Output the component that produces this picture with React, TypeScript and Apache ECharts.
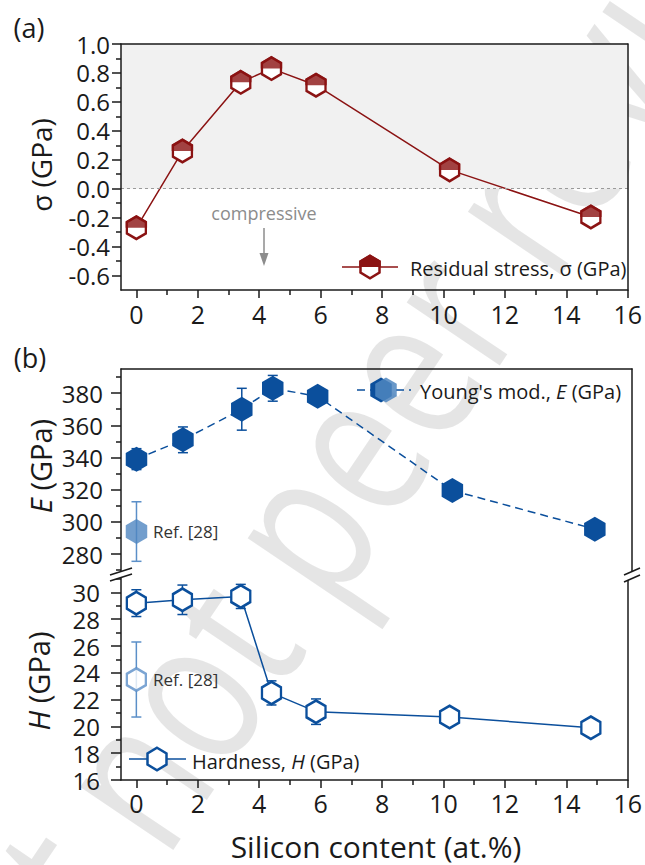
import React, { useEffect, useRef } from "react";
import * as echarts from "echarts";

// Silicon content of the films (at.%)
const silicon = [0, 1.5, 3.4, 4.4, 5.85, 10.2, 14.8];
// (a) residual stress, GPa
const residualStress = [-0.27, 0.26, 0.735, 0.83, 0.715, 0.13, -0.195];
// (b) Young's modulus, GPa
const youngsModulus = [339, 351, 370, 383, 378, 319.5, 295.5];
const youngsModulusErr = [6.5, 8, 13, 8, 4, 3, 3];
// (b) hardness, GPa
const hardness = [29.2, 29.45, 29.7, 22.5, 21.1, 20.7, 19.9];
const hardnessErr = [1.0, 1.1, 0.9, 0.9, 0.95, 0.3, 0.3];
// Ref. [28] values
const refSilicon = [0];
const refModulus = [294];
const refModulusErr = [18.5];
const refHardness = [23.5];
const refHardnessErr = [2.8];

// Axis ticks
const xTicks = [0, 2, 4, 6, 8, 10, 12, 14, 16];
const xMinorTicks = [1, 3, 5, 7, 9, 11, 13, 15];
const stressTicks = [-0.6, -0.4, -0.2, 0, 0.2, 0.4, 0.6, 0.8, 1.0];
const stressMinorTicks = [-0.5, -0.3, -0.1, 0.1, 0.3, 0.5, 0.7, 0.9];
const modulusTicks = [280, 300, 320, 340, 360, 380];
const modulusMinorTicks = [270, 290, 310, 330, 350, 370, 390];
const hardnessTicks = [16, 18, 20, 22, 24, 26, 28, 30];
const hardnessMinorTicks = [17, 19, 21, 23, 25, 27, 29, 31];

const INK = "#1a1a1a";
const RED = "#8b1313";
const BLUE = "#0b4f9c";
const REF_BLUE = "#4f86c0";
const REF_LINE = "#5b8fc8";
const FONT = "'Open Sans', sans-serif";

const HEX = "path://M0,-10L8.66,-5L8.66,5L0,10L-8.66,5L-8.66,-5Z";
const HEX_TOP = "path://M0,-10L8.66,-5L8.66,0L-8.66,0L-8.66,-5Z";

const pairs = (xs: number[], ys: number[]) => xs.map((x, i) => [x, ys[i]]);
const triples = (xs: number[], ys: number[], es: number[]) =>
  xs.map((x, i) => [x, ys[i], es[i]]);

const hexPoints = (cx: number, cy: number, w: number, h: number) => [
  [cx, cy - h / 2],
  [cx + w / 2, cy - h / 4],
  [cx + w / 2, cy + h / 4],
  [cx, cy + h / 2],
  [cx - w / 2, cy + h / 4],
  [cx - w / 2, cy - h / 4],
];
const hexTopPoints = (cx: number, cy: number, w: number, h: number) => [
  [cx, cy - h / 2],
  [cx + w / 2, cy - h / 4],
  [cx + w / 2, cy],
  [cx - w / 2, cy],
  [cx - w / 2, cy - h / 4],
];

const lineStyle = { color: INK, width: 1.5 };

function labelAxis(
  gridIndex: number,
  position: string,
  min: number,
  max: number,
  ticks: number[],
  tickLen: number,
  margin: number,
  fontSize: number,
  fmt?: (v: number) => string
) {
  return {
    type: "value",
    gridIndex,
    position,
    min,
    max,
    z: 5,
    axisLine: { show: true, onZero: false, lineStyle },
    axisTick: { show: true, customValues: ticks, length: tickLen, lineStyle },
    axisLabel: {
      show: true,
      customValues: ticks,
      fontSize,
      lineHeight: 20,
      color: INK,
      fontFamily: FONT,
      margin,
      formatter: fmt ? (v: number) => fmt(v) : (v: number) => String(v),
    },
    splitLine: { show: false },
  };
}

function minorAxis(gridIndex: number, position: string, min: number, max: number, ticks: number[]) {
  return {
    type: "value",
    gridIndex,
    position,
    min,
    max,
    z: 5,
    axisLine: { show: false, onZero: false },
    axisTick: { show: true, customValues: ticks, length: 5, lineStyle },
    axisLabel: { show: false },
    splitLine: { show: false },
  };
}

function frameAxis(gridIndex: number, position: string, min: number, max: number) {
  return {
    type: "value",
    gridIndex,
    position,
    min,
    max,
    z: 5,
    axisLine: { show: true, onZero: false, lineStyle },
    axisTick: { show: false },
    axisLabel: { show: false },
    splitLine: { show: false },
  };
}

function errorBars(
  name: string,
  xAxisIndex: number,
  yAxisIndex: number,
  data: number[][],
  color: string
) {
  return {
    type: "custom",
    name,
    xAxisIndex,
    yAxisIndex,
    z: 2,
    silent: true,
    data,
    encode: { x: 0, y: 1 },
    renderItem: (_params: any, api: any) => {
      const x = api.value(0);
      const y = api.value(1);
      const e = api.value(2);
      const hi = api.coord([x, y + e]);
      const lo = api.coord([x, y - e]);
      const cap = 5;
      const style = { stroke: color, lineWidth: 1.5 };
      return {
        type: "group",
        children: [
          { type: "line", shape: { x1: hi[0], y1: hi[1], x2: lo[0], y2: lo[1] }, style },
          { type: "line", shape: { x1: hi[0] - cap, y1: hi[1], x2: hi[0] + cap, y2: hi[1] }, style },
          { type: "line", shape: { x1: lo[0] - cap, y1: lo[1], x2: lo[0] + cap, y2: lo[1] }, style },
        ],
      };
    },
  };
}

function text(
  x: number,
  y: number,
  content: string,
  size: number,
  color: string,
  align: string,
  extra: any = {},
  rotation = 0
) {
  return {
    type: "text",
    x,
    y,
    rotation,
    z: 20,
    silent: true,
    style: {
      text: content,
      fontSize: size,
      fontFamily: FONT,
      fill: color,
      textAlign: align,
      align,
      textVerticalAlign: "middle",
      verticalAlign: "middle",
      rich: {
        i: { fontStyle: "italic", fontSize: size, fontFamily: FONT, fill: color },
      },
      ...extra,
    },
  };
}

// Large diagonal preprint stamp; two pieces meet at (x, y)
function watermark(x: number, y: number, before: string, after: string) {
  const base = {
    type: "text",
    x,
    y,
    rotation: (56 * Math.PI) / 180,
    scaleX: 0.78,
    z: 1,
    silent: true,
  };
  const style = {
    fontSize: 210,
    fontFamily: FONT,
    fill: "rgba(0,0,0,0.1)",
    textVerticalAlign: "middle",
    verticalAlign: "middle",
  };
  return [
    { ...base, style: { ...style, text: before, textAlign: "right", align: "right" } },
    { ...base, style: { ...style, text: after, textAlign: "left", align: "left" } },
  ];
}

function breakMark(x0: number, x1: number, yA0: number, yA1: number, gap: number) {
  return [
    {
      type: "polygon",
      z: 30,
      silent: true,
      shape: { points: [[x0, yA0], [x1, yA1], [x1, yA1 + gap], [x0, yA0 + gap]] },
      style: { fill: "#ffffff" },
    },
    {
      type: "line",
      z: 31,
      silent: true,
      shape: { x1: x0, y1: yA0, x2: x1, y2: yA1 },
      style: { stroke: INK, lineWidth: 1.5 },
    },
    {
      type: "line",
      z: 31,
      silent: true,
      shape: { x1: x0, y1: yA0 + gap, x2: x1, y2: yA1 + gap },
      style: { stroke: INK, lineWidth: 1.5 },
    },
  ];
}

function buildOption() {
  const E_MIN = 267;
  const E_MAX = 395;
  const H_MIN = 16;
  const H_MAX = 31.3;
  const S_MIN = -0.7;
  const S_MAX = 1.0;

  return {
    animation: false,
    textStyle: { fontFamily: FONT },
    grid: [
      { left: 121, top: 44, width: 511, height: 246 },
      { left: 121, top: 369, width: 511, height: 206 },
      { left: 121, top: 575, width: 511, height: 205 },
    ],
    xAxis: [
      labelAxis(0, "bottom", -0.5, 16, xTicks, 8, 14, 25),
      minorAxis(0, "bottom", -0.5, 16, xMinorTicks),
      frameAxis(0, "top", -0.5, 16),
      frameAxis(1, "top", -0.5, 16),
      labelAxis(2, "bottom", -0.5, 16, xTicks, 8, 13, 25),
      minorAxis(2, "bottom", -0.5, 16, xMinorTicks),
    ],
    yAxis: [
      labelAxis(0, "left", S_MIN, S_MAX, stressTicks, 9, 11, 24, (v) => v.toFixed(1)),
      minorAxis(0, "left", S_MIN, S_MAX, stressMinorTicks),
      frameAxis(0, "right", S_MIN, S_MAX),
      labelAxis(1, "left", E_MIN, E_MAX, modulusTicks, 10, 18, 24),
      minorAxis(1, "left", E_MIN, E_MAX, modulusMinorTicks),
      frameAxis(1, "right", E_MIN, E_MAX),
      labelAxis(2, "left", H_MIN, H_MAX, hardnessTicks, 10, 21, 24),
      minorAxis(2, "left", H_MIN, H_MAX, hardnessMinorTicks),
      frameAxis(2, "right", H_MIN, H_MAX),
    ],
    series: [
      // tensile region shading and zero-stress reference line
      {
        type: "line",
        name: "tensile",
        xAxisIndex: 0,
        yAxisIndex: 0,
        z: 0,
        silent: true,
        data: pairs(silicon, residualStress),
        symbol: "none",
        lineStyle: { opacity: 0 },
        markArea: {
          silent: true,
          itemStyle: { color: "#f1f1f1" },
          data: [[{ xAxis: -0.5, yAxis: 0 }, { xAxis: 16, yAxis: S_MAX }]],
        },
        markLine: {
          silent: true,
          symbol: ["none", "none"],
          label: { show: false },
          lineStyle: { color: "#9a9a9a", type: [3, 3], width: 1 },
          data: [{ yAxis: 0 }],
        },
      },
      {
        type: "line",
        name: "Residual stress",
        xAxisIndex: 0,
        yAxisIndex: 0,
        z: 3,
        data: pairs(silicon, residualStress),
        symbol: HEX,
        symbolSize: [19, 22.5],
        itemStyle: { color: "#ffffff", borderColor: RED, borderWidth: 2.5 },
        lineStyle: { color: RED, width: 1.5 },
      },
      {
        type: "scatter",
        name: "Residual stress (upper half)",
        xAxisIndex: 0,
        yAxisIndex: 0,
        z: 4,
        data: pairs(silicon, residualStress),
        symbol: HEX_TOP,
        symbolSize: [21.5, 12.5],
        symbolOffset: [0, -6.25],
        itemStyle: { color: RED },
      },
      errorBars("E error", 3, 3, triples(silicon, youngsModulus, youngsModulusErr), BLUE),
      {
        type: "line",
        name: "Young's modulus",
        xAxisIndex: 3,
        yAxisIndex: 3,
        z: 3,
        data: pairs(silicon, youngsModulus),
        symbol: HEX,
        symbolSize: [21.5, 25],
        itemStyle: { color: BLUE },
        lineStyle: { color: BLUE, width: 1.5, type: [8, 5] },
      },
      errorBars("E ref error", 3, 3, triples(refSilicon, refModulus, refModulusErr), REF_LINE),
      {
        type: "scatter",
        name: "E Ref. [28]",
        xAxisIndex: 3,
        yAxisIndex: 3,
        z: 3,
        data: pairs(refSilicon, refModulus),
        symbol: HEX,
        symbolSize: [21.5, 25],
        itemStyle: { color: REF_BLUE },
      },
      errorBars("H error", 4, 6, triples(silicon, hardness, hardnessErr), BLUE),
      {
        type: "line",
        name: "Hardness",
        xAxisIndex: 4,
        yAxisIndex: 6,
        z: 3,
        data: pairs(silicon, hardness),
        symbol: HEX,
        symbolSize: [19, 22.5],
        itemStyle: { color: "#ffffff", borderColor: BLUE, borderWidth: 2.5 },
        lineStyle: { color: BLUE, width: 1.5 },
      },
      errorBars("H ref error", 4, 6, triples(refSilicon, refHardness, refHardnessErr), REF_LINE),
      {
        type: "scatter",
        name: "H Ref. [28]",
        xAxisIndex: 4,
        yAxisIndex: 6,
        z: 3,
        data: pairs(refSilicon, refHardness),
        symbol: HEX,
        symbolSize: [19, 22.5],
        itemStyle: { color: "#ffffff", borderColor: REF_LINE, borderWidth: 2.5 },
      },
    ],
    graphic: [
      ...watermark(98, 816, "Preprint ", "not peer reviewed"),
      text(29, 27, "(a)", 27, INK, "center"),
      text(30, 357, "(b)", 27, INK, "center"),
      text(41, 165, "σ (GPa)", 28, INK, "center", {}, Math.PI / 2),
      text(40, 466, "{i|E} (GPa)", 29, INK, "center", {}, Math.PI / 2),
      text(38, 681, "{i|H} (GPa)", 29, INK, "center", {}, Math.PI / 2),
      text(376, 846, "Silicon content (at.%)", 30, INK, "center"),
      // compressive annotation
      text(264, 213, "compressive", 18, "#8c8c8c", "center"),
      {
        type: "line",
        z: 20,
        silent: true,
        shape: { x1: 264, y1: 228, x2: 264, y2: 256 },
        style: { stroke: "#8c8c8c", lineWidth: 1.5 },
      },
      {
        type: "polygon",
        z: 20,
        silent: true,
        shape: { points: [[259.5, 253], [268.5, 253], [264, 266]] },
        style: { fill: "#8c8c8c" },
      },
      // Ref. [28] labels
      text(153, 531, "Ref. [28]", 17, "#333333", "left"),
      text(153, 679, "Ref. [28]", 17, "#333333", "left"),
      // legend: residual stress
      {
        type: "line",
        z: 20,
        silent: true,
        shape: { x1: 342, y1: 267, x2: 398, y2: 267 },
        style: { stroke: RED, lineWidth: 1.5 },
      },
      {
        type: "polygon",
        z: 21,
        silent: true,
        shape: { points: hexPoints(370, 267, 19, 22.5) },
        style: { fill: "#ffffff", stroke: RED, lineWidth: 2.5 },
      },
      {
        type: "polygon",
        z: 22,
        silent: true,
        shape: { points: hexTopPoints(370, 267, 21.5, 25) },
        style: { fill: RED },
      },
      text(410, 268, "Residual stress, σ (GPa)", 20, INK, "left"),
      // legend: Young's modulus
      {
        type: "line",
        z: 20,
        silent: true,
        shape: { x1: 357, y1: 390, x2: 411, y2: 390 },
        style: { stroke: BLUE, lineWidth: 1.5, lineDash: [8, 5] },
      },
      {
        type: "polygon",
        z: 21,
        silent: true,
        shape: { points: hexPoints(381, 390, 21.5, 25) },
        style: { fill: BLUE },
      },
      {
        type: "polygon",
        z: 22,
        silent: true,
        shape: { points: hexPoints(386, 390, 21.5, 25) },
        style: { fill: REF_BLUE, opacity: 0.85 },
      },
      text(420, 391, "Young's mod., {i|E} (GPa)", 20, INK, "left"),
      // legend: hardness
      {
        type: "line",
        z: 20,
        silent: true,
        shape: { x1: 129, y1: 759, x2: 186, y2: 759 },
        style: { stroke: BLUE, lineWidth: 1.5 },
      },
      {
        type: "polygon",
        z: 21,
        silent: true,
        shape: { points: hexPoints(157, 759, 19, 22.5) },
        style: { fill: "#ffffff", stroke: BLUE, lineWidth: 2.5 },
      },
      text(192, 761, "Hardness, {i|H} (GPa)", 20, INK, "left"),
      // axis break marks
      ...breakMark(110, 132, 575, 568, 6),
      ...breakMark(624, 640, 575, 568, 7),
    ],
  };
}

export default function App() {
  const ref = useRef<HTMLDivElement>(null);
  useEffect(() => {
    if (!ref.current) return;
    const chart = echarts.init(ref.current, null, { renderer: "svg" });
    chart.setOption(buildOption() as any);
    return () => chart.dispose();
  }, []);
  return (
    <div
      ref={ref}
      style={{ position: "fixed", left: 0, top: 0, width: 645, height: 865, background: "#ffffff" }}
    />
  );
}
